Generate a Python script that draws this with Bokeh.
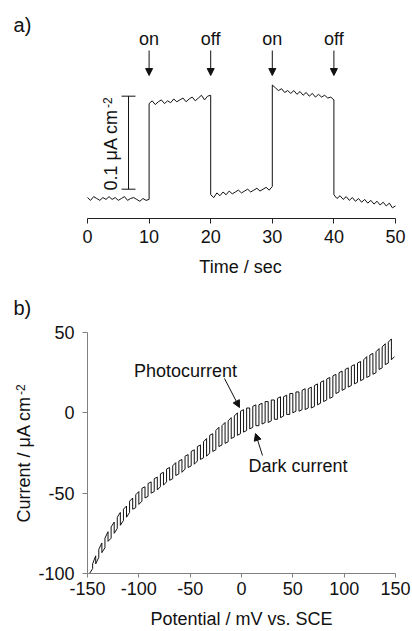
import math
import numpy as np
from bokeh.plotting import figure
from bokeh.layouts import column
from bokeh.models import Range1d, FixedTicker, Label, Arrow, NormalHead
from bokeh.embed import file_html
from bokeh.resources import INLINE

FONT = "Liberation Sans"
INK = "#111111"

# ---------------- Panel a data: photocurrent transient (nA cm^-2, relative) ----------------
seg_edges = [0, 10, 20, 30, 40, 50]          # light switched on at 10, 30 s; off at 20, 40 s
seg_dark_1 = [1, -2, 2, 0, -2, 1, -1, 2, -1, 1, -2, 0, 2, -2, 0, 1, -1, -3, 0, -2, -1]
seg_light_1 = [102, 105, 101, 104, 106, 102, 105, 103, 107, 104, 106, 108, 104, 107, 109, 105, 108, 111, 106, 110, 111]
seg_dark_2 = [4, 1, 6, 3, 7, 4, 8, 5, 7, 9, 6, 8, 10, 7, 9, 11, 8, 10, 12, 9, 13]
seg_light_2 = [122, 119, 116, 118, 114, 116, 113, 116, 112, 115, 111, 114, 110, 113, 109, 112, 109, 111, 108, 109, 106]
seg_dark_3 = [4, 0, 3, -1, 2, -2, 1, -3, 0, -4, -1, -5, -2, -6, -3, -7, -4, -8, -5, -10, -8]
segments_a = [seg_dark_1, seg_light_1, seg_dark_2, seg_light_2, seg_dark_3]
events_t = [10, 20, 30, 40]
events_label = ["on", "off", "on", "off"]
time_ticks = [0, 10, 20, 30, 40, 50]

# ---------------- Panel b data: chopped-light linear sweep ----------------
potential_b = np.arange(-148, 150, 3)   # chopping half-periods, mV vs. SCE
photo_b = [-98, -94, -89, -85, -81, -78, -74, -71, -68, -65,
           -62, -60, -58, -55, -53, -51, -49, -47, -46, -44,
           -43, -41, -40, -38, -37, -35, -34, -33, -31, -30,
           -29, -27, -26, -24, -23, -21, -20, -18, -16, -14,
           -13, -11, -9, -8, -6, -5, -3, -2, 0, 1,
           2, 3, 3, 4, 5, 5, 6, 7, 7, 8,
           8, 9, 10, 10, 11, 12, 12, 13, 13, 14,
           15, 15, 16, 17, 18, 19, 20, 21, 22, 23,
           24, 25, 26, 27, 28, 29, 30, 31, 32, 33,
           35, 36, 37, 38, 40, 41, 43, 44, 46, 48]
dark_b = [-100, -97, -94, -90, -87, -84, -80, -78, -75, -72,
          -70, -67, -65, -62, -60, -59, -57, -55, -53, -52,
          -50, -49, -48, -46, -45, -43, -42, -41, -39, -38,
          -37, -35, -34, -33, -32, -30, -29, -28, -27, -25,
          -24, -23, -21, -20, -19, -18, -16, -15, -14, -13,
          -12, -11, -10, -9, -8, -8, -7, -6, -6, -5,
          -4, -4, -3, -2, -1, -1, 0, 1, 1, 2,
          2, 3, 3, 4, 5, 6, 7, 8, 9, 10,
          12, 13, 14, 15, 16, 17, 18, 19, 20, 21,
          22, 23, 24, 25, 27, 28, 30, 31, 33, 35]
pot_ticks = [-150, -100, -50, 0, 50, 100, 150]
cur_ticks = [-100, -50, 0, 50]


def style_axis(a, ticks, color, out, standoff):
    a.ticker = FixedTicker(ticks=ticks)
    a.major_label_overrides = {t: str(t) for t in ticks}
    a.axis_line_color = color
    a.major_tick_line_color = color
    a.major_tick_out = out
    a.major_tick_in = 0
    a.minor_tick_line_color = None
    a.major_label_text_font = FONT
    a.major_label_text_font_size = "18px"
    a.major_label_text_color = INK
    a.major_label_standoff = standoff


def add_text(p, x, y, text, size="18px", align="left", angle=0.0):
    p.add_layout(Label(x=x, y=y, text=text, angle=angle, text_font=FONT, text_font_size=size,
                       text_align=align, text_baseline="middle", text_color=INK))


def add_arrow(p, x0, y0, x1, y1):
    p.add_layout(Arrow(x_start=x0, y_start=y0, x_end=x1, y_end=y1, line_width=1, line_color=INK,
                       end=NormalHead(size=7, fill_color=INK, line_color=INK, line_width=1)))


# ---------------- Panel a ----------------
pa = figure(width=412, height=298, output_backend="svg", toolbar_location=None,
            x_range=Range1d(-14.1234, 52.7597), y_range=Range1d(-107.5, 212.85),
            y_axis_location=None, min_border=0)
pa.outline_line_color = None
pa.grid.visible = False

ta, ya = [], []
for i, seg in enumerate(segments_a):
    t = np.linspace(seg_edges[i], seg_edges[i + 1], len(seg))
    ta.extend(t.tolist())
    ya.extend(seg)
pa.line(ta, ya, line_color=INK, line_width=1)

ax = pa.xaxis[0]
style_axis(ax, time_ticks, "#222222", 5, 6)
ax.fixed_location = -21.5
ax.bounds = (0, 50)

add_text(pa, -12.0, 186.9, "a)", size="20px")
for t, lab in zip(events_t, events_label):
    add_text(pa, t, 171.2, lab, align="center")
    add_arrow(pa, t, 159.1, t, 132.2)

# scale bar 0.1 uA cm^-2 (= 100 nA cm^-2)
sb_x, sb_y0, sb_y1, sb_w = 6.66, 10, 110, 1.13
pa.segment(x0=[sb_x, sb_x - sb_w, sb_x - sb_w], y0=[sb_y0, sb_y0, sb_y1],
           x1=[sb_x, sb_x + sb_w, sb_x + sb_w], y1=[sb_y1, sb_y0, sb_y1],
           line_color=INK, line_width=1)
add_text(pa, 3.86, 8.6, "0.1 μA cm", angle=math.pi / 2)
add_text(pa, 3.21, 97.2, "-2", size="12px", angle=math.pi / 2)
add_text(pa, 24.84, -73.9, "Time / sec", align="center")

# ---------------- Panel b ----------------
pb = figure(width=412, height=333, output_backend="svg", toolbar_location=None,
            x_range=Range1d(-234.74, 166.56), y_range=Range1d(-136.10, 71.16),
            min_border=0)
pb.outline_line_color = None
pb.grid.visible = False

xs, ys = [], []
for k in range(len(potential_b) - 1):
    lvl = dark_b if k % 2 == 0 else photo_b
    xs.extend([potential_b[k], potential_b[k + 1]])
    ys.extend([lvl[k], lvl[k + 1]])
pb.line(xs, ys, line_color=INK, line_width=1)

bx, by = pb.xaxis[0], pb.yaxis[0]
style_axis(bx, pot_ticks, "#808080", 4, 5)
bx.fixed_location = -100
bx.bounds = (-150, 150)
style_axis(by, cur_ticks, "#808080", 5, 8)
by.fixed_location = -150
by.bounds = (-100, 50)

add_text(pb, -222.08, 65.5, "b)", size="20px")
add_text(pb, -211.56, -68.26, "Current / μA cm", angle=math.pi / 2)
add_text(pb, -215.46, 11.04, "-2", size="12px", angle=math.pi / 2)
add_text(pb, 0, -128.6, "Potential / mV vs. SCE", align="center")
add_text(pb, -54.5, 25.85, "Photocurrent", align="center")
add_arrow(pb, -16.56, 21.37, -1.95, 3.32)
add_text(pb, 55.0, -33.09, "Dark current", align="center")
add_arrow(pb, 20.45, -26.56, 13.64, -12.86)

layout = column(pa, pb, spacing=0)
open("out.html", "w").write(file_html(layout, INLINE))
